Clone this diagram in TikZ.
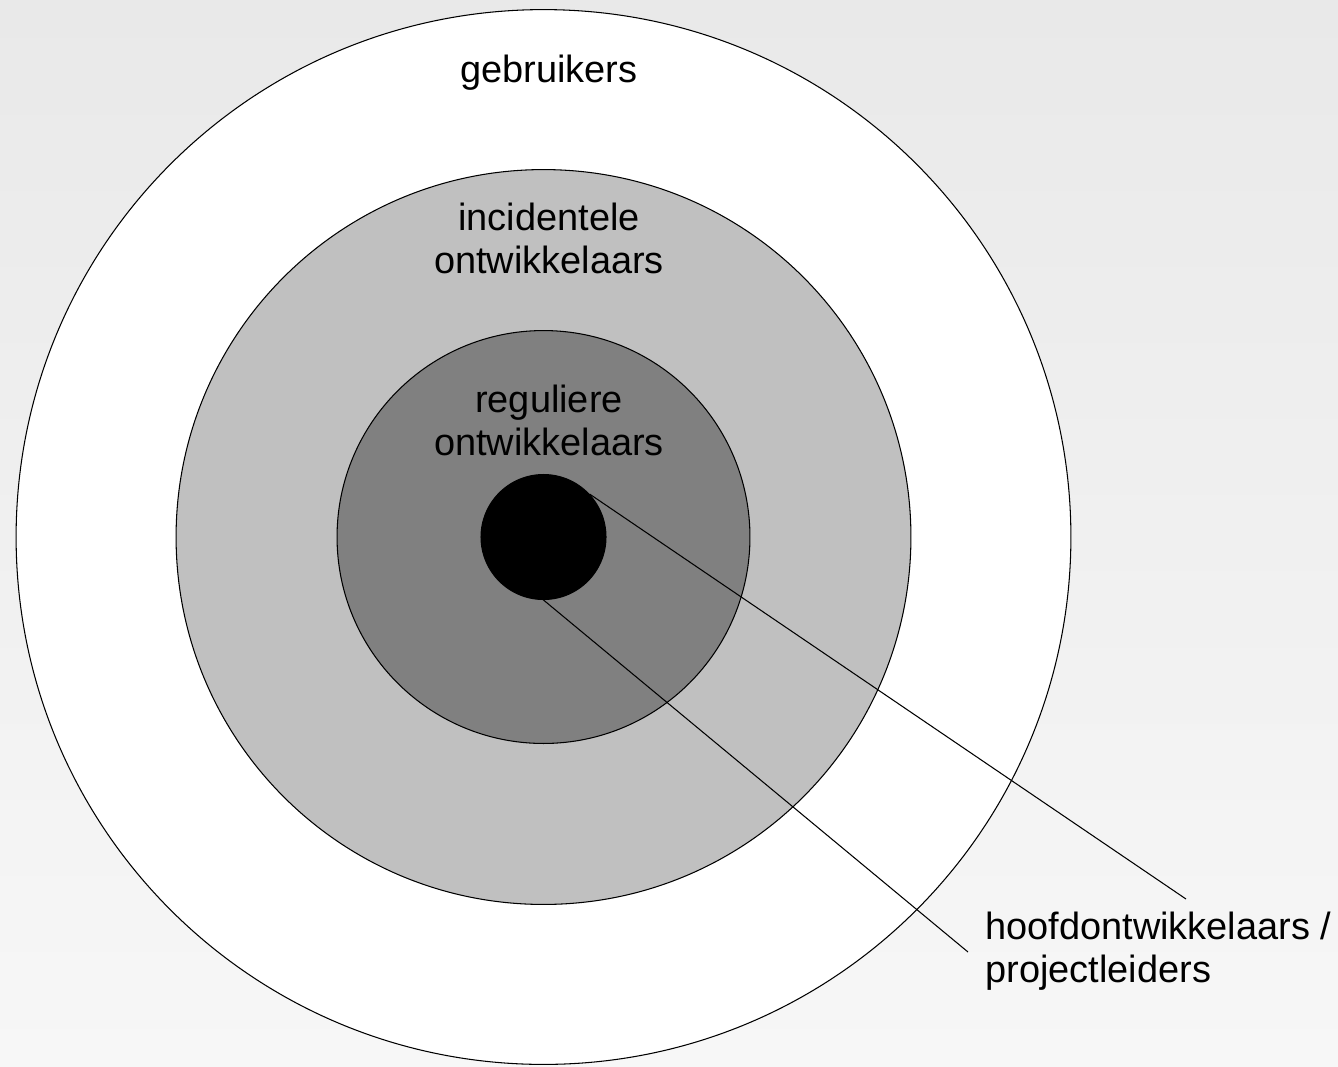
\documentclass[tikz,border=0pt]{standalone}
\usepackage{fontspec}
\setmainfont{Liberation Sans}
\definecolor{bgtop}{HTML}{E9E9E9}
\definecolor{bgmid}{HTML}{E0E0E0}
\definecolor{bgbot}{HTML}{F7F7F7}
\definecolor{ringlight}{HTML}{C0C0C0}
\definecolor{ringdark}{HTML}{808080}
\tikzset{
  ring/.style={circle, draw=black, line width=0.6pt, inner sep=0pt},
  lbl/.style={font=\fontsize{21.6}{24.2}\selectfont, align=center, inner sep=0pt, anchor=base},
  pointer/.style={draw=black, line width=0.6pt}
}
\begin{document}
\begin{tikzpicture}[x=0.02cm, y=-0.02cm]
    \shade [top color=bgtop, middle color=bgmid, bottom color=bgbot] (0,0) rectangle (1338,1066);
    \useasboundingbox (0,0) rectangle (1338,1066);
    % rings
    \node [ring, fill=white, minimum size=21.1cm] (users) at (543.5,537) {};
    \node [ring, fill=ringlight, minimum size=14.7cm] (occasional) at (543.5,537) {};
    \node [ring, fill=ringdark, minimum size=8.26cm] (regular) at (543.5,537) {};
    \node [ring, fill=black, minimum size=2.5cm] (core) at (543.5,537) {};
    % labels (base = last line)
    \node [lbl] (userslbl) at (549,82) {gebruikers};
    \node [lbl] (occasionallbl) at (549,273) {incidentele\\ontwikkelaars};
    \node [lbl] (regularlbl) at (549,455) {reguliere\\ontwikkelaars};
    \node [lbl, align=left, anchor=base west] (corelbl) at (985,982) {hoofdontwikkelaars /\\projectleiders};
    % pointers
    \coordinate (tipA) at (1186,899);
    \coordinate (tipB) at (968,952);
    \draw [pointer] (core.43) -- (tipA);
    \draw [pointer] (core.south) -- (tipB);
\end{tikzpicture}
\end{document}
